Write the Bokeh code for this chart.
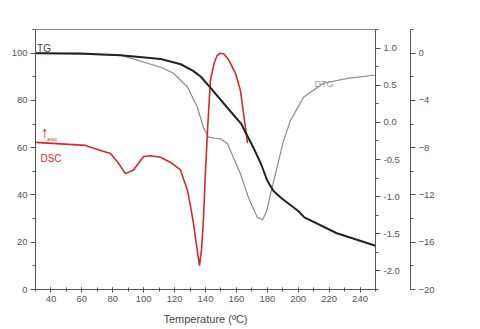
from bokeh.plotting import figure
from bokeh.models import (Range1d, LinearAxis, FixedTicker, PrintfTickFormatter, Label)
from bokeh.embed import file_html
from bokeh.resources import INLINE

# ---- data ----
tg_temp = [30, 59, 85, 111, 124, 132, 137, 143, 154, 163, 171, 176, 180, 184, 189, 200, 204, 225, 250]
tg_val = [100, 99.8, 99.1, 97.5, 95.3, 92.5, 90, 85.5, 77, 70.2, 60, 53, 46, 41.7, 38.7, 33.2, 30.5, 23.8, 18.5]

dtg_temp = [30, 85, 111, 119.3, 128.4, 134.8, 138.7, 141.9, 146, 149.7, 154.2, 162.6, 168, 173.6, 176.9, 179.5, 182.1, 190.5, 195, 203.4, 216.4, 231.9, 250]
dtg_val = [0, -0.17, -1.19, -1.7, -2.89, -4.6, -6.3, -7.1, -7.2, -7.25, -7.66, -10.2, -12.3, -13.9, -14.1, -13.4, -11.9, -7.4, -5.7, -3.74, -2.55, -2.13, -1.85]

dsc_temp = [30, 62.4, 72.1, 78.5, 83.7, 88.2, 93.4, 99.9, 104.4, 110.9, 117.4, 123.8, 128.4, 130.5, 132.2, 134.5, 136.1, 137.5, 138.7, 140, 141.3, 143.2, 145.8, 147.5, 149.7, 152, 155, 159.4, 162.6, 164.6, 167.2]
dsc_val = [-0.27, -0.31, -0.38, -0.42, -0.55, -0.69, -0.64, -0.46, -0.45, -0.47, -0.54, -0.64, -0.92, -1.15, -1.36, -1.7, -1.93, -1.7, -1.3, -0.65, -0.11, 0.57, 0.81, 0.9, 0.93, 0.92, 0.84, 0.66, 0.43, 0.12, -0.28]

x_ticks = [40, 60, 80, 100, 120, 140, 160, 180, 200, 220, 240]
tg_ticks = [0, 20, 40, 60, 80, 100]
dsc_ticks = [-2.0, -1.5, -1.0, -0.5, 0.0, 0.5, 1.0]
dtg_ticks = [-20, -16, -12, -8, -4, 0]

FONT = "Liberation Sans"
AX = "#555555"
RED = "#d42a2a"

p = figure(width=480, height=329, output_backend="svg", toolbar_location=None,
           x_range=Range1d(30, 250), y_range=Range1d(0, 110),
           min_border_left=35, min_border_top=29, min_border_bottom=40, min_border_right=105)
p.xgrid.visible = False
p.ygrid.visible = False
p.outline_line_color = "#888888"
p.background_fill_color = "white"
p.border_fill_color = "white"

p.extra_y_ranges = {"dsc": Range1d(-2.25, 1.25), "dtg": Range1d(-20, 2)}

def style(ax, ticks, minor, size="9.5px"):
    ax.ticker = FixedTicker(ticks=ticks, minor_ticks=minor)
    ax.axis_line_color = AX
    ax.major_tick_line_color = AX
    ax.minor_tick_line_color = AX
    ax.major_label_text_color = AX
    ax.major_label_text_font = FONT
    ax.major_label_text_font_size = size
    ax.major_tick_out = 5
    ax.major_tick_in = 0
    ax.minor_tick_out = 3
    ax.minor_tick_in = 0
    ax.major_label_standoff = 3

xa = p.xaxis[0]
style(xa, x_ticks, [30 + 10 * i for i in range(23)])
xa.major_tick_out = 3
xa.minor_tick_out = 2
xa.major_tick_in = 2
xa.minor_tick_in = 2
xa.axis_label = "Temperature (\u00baC)"
xa.axis_label_text_font = FONT
xa.axis_label_text_font_style = "normal"
xa.axis_label_text_font_size = "11px"
xa.axis_label_text_color = "#444444"
xa.axis_label_standoff = 8

ya = p.yaxis[0]
style(ya, tg_ticks, [10 * i for i in range(12)])

dsc_ax = LinearAxis(y_range_name="dsc")
style(dsc_ax, dsc_ticks, [-2.25 + 0.25 * i for i in range(15)])
dsc_ax.formatter = PrintfTickFormatter(format="%.1f")
dsc_ax.axis_label = " "
dsc_ax.axis_label_text_font_size = "2px"
dsc_ax.axis_label_standoff = 2
p.add_layout(dsc_ax, "right")

dtg_ax = LinearAxis(y_range_name="dtg")
style(dtg_ax, dtg_ticks, [-20 + 2 * i for i in range(12)])
p.add_layout(dtg_ax, "right")

# curves
p.line(dtg_temp, dtg_val, y_range_name="dtg", line_color="#8a8a8a", line_width=1.2)
p.line(dsc_temp, dsc_val, y_range_name="dsc", line_color=RED, line_width=1.6)
p.line(tg_temp, tg_val, line_color="#222222", line_width=2)

# axis titles at top
p.add_layout(Label(x=30, y=110, text="TG (%)", x_offset=-12, y_offset=8, text_baseline="middle",
                   text_align="left", text_font=FONT, text_font_size="11px", text_color="#444444"))
p.add_layout(Label(x=250, y=110, text="DSC (mW/mg)", x_offset=27, y_offset=8, text_baseline="middle",
                   text_align="right", text_font=FONT, text_font_size="11px", text_color="#444444"))
p.add_layout(Label(x=250, y=110, text="DTG (%/min)", x_offset=29, y_offset=8, text_baseline="middle",
                   text_align="left", text_font=FONT, text_font_size="11px", text_color="#444444"))

# in-plot labels
p.add_layout(Label(x=31, y=102, text="TG", text_baseline="middle", text_align="left",
                   text_font=FONT, text_font_size="10px", text_color="#444444"))
p.add_layout(Label(x=222.8, y=86.8, text="DTG", text_baseline="middle", text_align="right",
                   text_font=FONT, text_font_size="9px", text_color="#999999"))
p.add_layout(Label(x=33.2, y=55.3, text="DSC", text_baseline="middle", text_align="left",
                   text_font=FONT, text_font_size="10px", text_color=RED))
p.add_layout(Label(x=33.2, y=66.5, text="\u2191", text_baseline="middle", text_align="left",
                   text_font=FONT, text_font_size="16px", text_color=RED))
p.add_layout(Label(x=37.6, y=63.5, text="exo", text_baseline="middle", text_align="left",
                   text_font=FONT, text_font_size="6px", text_color=RED))

open("out.html", "w").write(file_html(p, INLINE))
